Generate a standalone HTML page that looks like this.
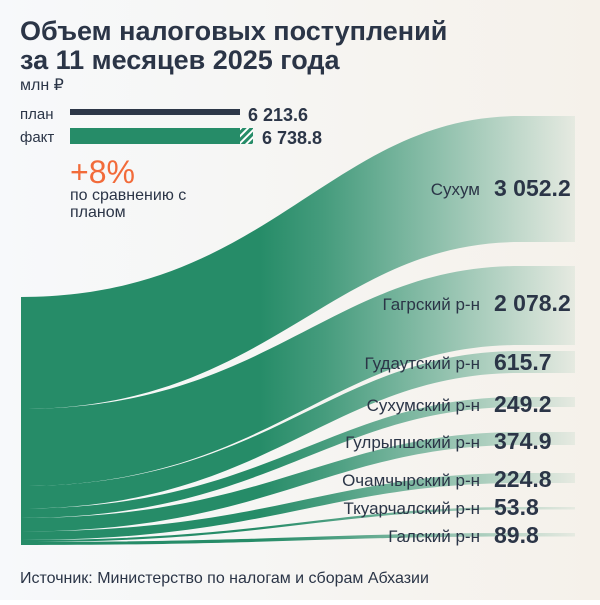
<!DOCTYPE html>
<html><head><meta charset="utf-8"><style>
body{margin:0}
svg text{font-family:"Liberation Sans",sans-serif}
</style></head><body>
<svg width="600" height="600" viewBox="0 0 600 600" xmlns="http://www.w3.org/2000/svg">
<defs>
<linearGradient id="bg" x1="0" x2="1" y1="0" y2="0"><stop offset="0" stop-color="#f7f9fb"/><stop offset="1" stop-color="#f5f1ea"/></linearGradient>
<linearGradient id="fl" gradientUnits="userSpaceOnUse" x1="260" x2="580" y1="0" y2="0"><stop offset="0" stop-color="#268c68"/><stop offset="0.2" stop-color="#268c68" stop-opacity="0.85"/><stop offset="1" stop-color="#268c68" stop-opacity="0.06"/></linearGradient>
<pattern id="h" width="5" height="5" patternUnits="userSpaceOnUse" patternTransform="rotate(45)"><rect width="5" height="5" fill="#268c68"/><rect width="2" height="5" fill="#fff"/></pattern>
</defs>
<rect width="600" height="600" fill="url(#bg)"/>
<g fill="url(#fl)">
<path d="M21 297 C270 297 330 116 520 116 L575 116 L575 242 L520 242 C330 242 270 409 21 409Z"/>
<path d="M21 409 C270 409 330 266 520 266 L575 266 L575 345 L520 345 C330 345 270 486 21 486Z"/>
<path d="M21 486 C270 486 330 351 520 351 L575 351 L575 373 L520 373 C330 373 270 508.5 21 508.5Z"/>
<path d="M21 508.5 C270 508.5 330 397 520 397 L575 397 L575 407 L520 407 C330 407 270 518 21 518Z"/>
<path d="M21 518 C270 518 330 432 520 432 L575 432 L575 445 L520 445 C330 445 270 531.5 21 531.5Z"/>
<path d="M21 531.5 C270 531.5 330 473 520 473 L575 473 L575 483 L520 483 C330 483 270 540 21 540Z"/>
<path d="M21 540 C270 540 330 507 520 507 L575 507 L575 509.5 L520 509.5 C330 509.5 270 542 21 542Z"/>
<path d="M21 542 C270 542 330 533 520 533 L575 533 L575 536.5 L520 536.5 C330 536.5 270 545 21 545Z"/>
</g>
<g fill="#2b3547">
<text x="20" y="40" font-size="27" font-weight="bold">Объем налоговых поступлений</text>
<text x="20" y="69" font-size="27" font-weight="bold">за 11 месяцев 2025 года</text>
<text x="20" y="90" font-size="16">млн ₽</text>
<text x="20" y="119" font-size="15">план</text>
<text x="20" y="142" font-size="15">факт</text>
<text x="248" y="121" font-size="18" font-weight="bold">6 213.6</text>
<text x="262" y="144" font-size="18" font-weight="bold">6 738.8</text>
<text x="70" y="200" font-size="16">по сравнению с</text>
<text x="70" y="217" font-size="16">планом</text>
<text x="20" y="583" font-size="16">Источник: Министерство по налогам и сборам Абхазии</text>
</g>
<rect x="70" y="109" width="170" height="6" fill="#2d3748"/>
<rect x="70" y="128" width="170" height="16" fill="#268c68"/>
<rect x="240" y="128" width="13" height="16" fill="url(#h)"/>
<text x="70" y="183" font-size="32" fill="#f26b3a">+8%</text>
<g fill="#2b3547" font-size="17" text-anchor="end">
<text x="480" y="195">Сухум</text>
<text x="480" y="310">Гагрский р-н</text>
<text x="480" y="369">Гудаутский р-н</text>
<text x="480" y="411">Сухумский р-н</text>
<text x="480" y="448">Гулрыпшский р-н</text>
<text x="480" y="486">Очамчырский р-н</text>
<text x="480" y="514">Ткуарчалский р-н</text>
<text x="480" y="542">Галский р-н</text>
</g>
<g fill="#2b3547" font-size="23" font-weight="bold">
<text x="494" y="196">3 052.2</text>
<text x="494" y="311">2 078.2</text>
<text x="494" y="370">615.7</text>
<text x="494" y="412">249.2</text>
<text x="494" y="449">374.9</text>
<text x="494" y="487">224.8</text>
<text x="494" y="515">53.8</text>
<text x="494" y="543">89.8</text>
</g>
</svg>
</body></html>
